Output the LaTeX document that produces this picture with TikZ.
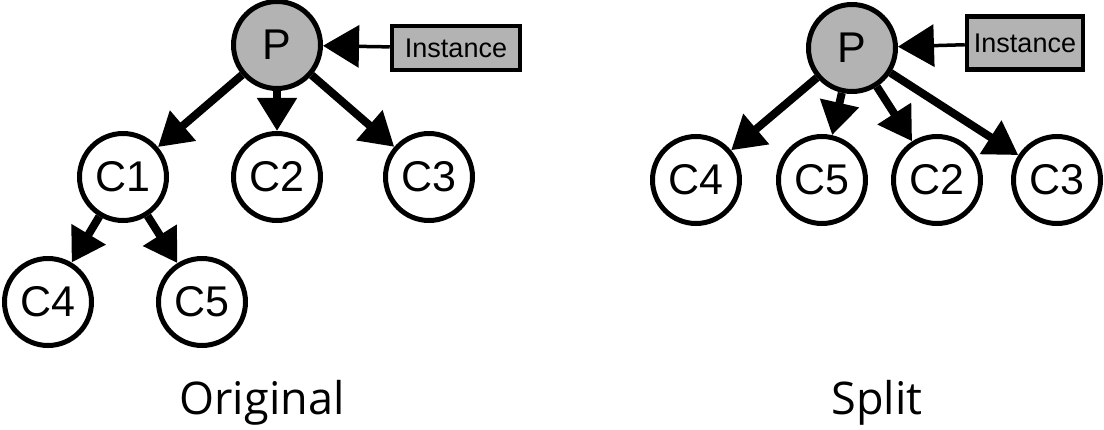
\documentclass[tikz,border=0pt]{standalone}
\usepackage{fontspec}
\setmainfont{Liberation Sans}
\newfontfamily\captionfont{Open Sans}
\usetikzlibrary{arrows.meta}
\definecolor{nodegray}{RGB}{179,179,179}
\tikzset{
  x=1pt, y=-1pt,
  treenode/.style={circle, draw=black, line width=5pt, fill=white,
    minimum size=87pt, inner sep=0pt, font=\fontsize{43}{43}\selectfont},
  rootnode/.style={treenode, fill=nodegray},
  instbox/.style={rectangle, draw=black, line width=4.5pt, fill=nodegray,
    inner sep=0pt, font=\fontsize{27}{27}\selectfont},
  childedge/.style={line width=8pt,
    -{Triangle[length=33pt,width=38pt]}},
  instedge/.style={line width=3.5pt,
    -{Triangle[length=36pt,width=42pt]}},
  caption/.style={anchor=base, font=\captionfont\fontsize{45}{45}\selectfont}
}
\begin{document}
\begin{tikzpicture}
\useasboundingbox (0,0) rectangle (1104,430);

% left tree: original hierarchy
\node[rootnode] (lP) at (277,45) {P};
\node[instbox, minimum width=128pt, minimum height=44pt] (lI) at (456,48) {Instance};
\node[treenode] (lC1) at (123,177) {C1};
\node[treenode] (lC2) at (277,177) {C2};
\node[treenode] (lC3) at (429,177) {C3};
\node[treenode] (lC4) at (48,302) {C4};
\node[treenode] (lC5) at (202,302) {C5};

\draw[instedge] (lI) -- (lP);
\draw[childedge] (lP) -- (lC1);
\draw[childedge] (lP) -- (lC2);
\draw[childedge] (lP) -- (lC3);
\draw[childedge] (lC1) -- (lC4);
\draw[childedge] (lC1) -- (lC5);

\node[caption] (lcap) at (262,415) {Original};

% right tree: flattened after the split
\node[rootnode] (rP) at (852,48) {P};
\node[instbox, minimum width=116pt, minimum height=53pt] (rI) at (1025,43) {Instance};
\node[treenode] (rC4) at (696,180) {C4};
\node[treenode] (rC5) at (822,180) {C5};
\node[treenode] (rC2) at (937,180) {C2};
\node[treenode] (rC3) at (1057,180) {C3};

\draw[instedge] (rI) -- (rP);
\draw[childedge] (rP) -- (rC4);
\draw[childedge] (rP) -- (rC5);
\draw[childedge] (rP) -- (rC2);
\draw[childedge] (rP) -- (rC3);

\node[caption] (rcap) at (877,415) {Split};
\end{tikzpicture}
\end{document}
